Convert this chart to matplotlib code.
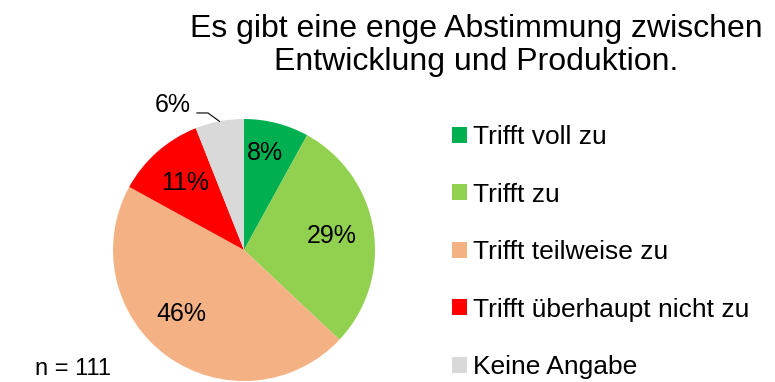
import matplotlib
matplotlib.use("Agg")
import matplotlib.pyplot as plt
import numpy as np

plt.rcParams['font.family'] = ['Liberation Sans', 'DejaVu Sans']

# Umfragedaten
kategorien = ['Trifft voll zu', 'Trifft zu', 'Trifft teilweise zu',
              'Trifft überhaupt nicht zu', 'Keine Angabe']
anteile = [8, 29, 46, 11, 6]
farben = ['#00B050', '#92D050', '#F4B183', '#FF0000', '#D9D9D9']
titel = 'Es gibt eine enge Abstimmung zwischen\nEntwicklung und Produktion.'
stichprobe = 'n = 111'

fig = plt.figure(figsize=(7.75, 3.82), dpi=100)
ax = fig.add_axes([113 / 775, 1 / 382, 262 / 775, 262 / 382])

wedges, texte, pct = ax.pie(anteile, colors=farben, startangle=90, counterclock=False,
                            autopct='%d%%', pctdistance=0.68, radius=1,
                            textprops={'fontsize': 18})
ax.set_xlim(-1, 1)
ax.set_ylim(-1, 1)
ax.set_aspect('equal')

# Beschriftungen leicht verschieben
x, y = pct[0].get_position()
pct[0].set_position((x * 0.95, y * 1.12))
x, y = pct[2].get_position()
pct[2].set_position((x * 1.2, y * 0.89))

# 6%-Beschriftung außerhalb mit Führungslinie
w = wedges[4]
mitte = np.deg2rad((w.theta1 + w.theta2) / 2)
rx, ry = np.cos(mitte), np.sin(mitte)
pct[4].set_visible(False)
knick = (-0.275, 1.046)
ax.plot([rx, knick[0], knick[0] - 0.085], [ry, knick[1], knick[1]],
        color='black', lw=0.8, clip_on=False)
ax.text(-0.405, 1.11, '%d%%' % anteile[4], ha='right', va='center',
        fontsize=18, clip_on=False)

fig.text(0.614, 0.88, titel, ha='center', va='center', fontsize=23, linespacing=1.12)
fig.text(0.045, 0.035, stichprobe, ha='left', va='center', fontsize=17)

leg = ax.legend(wedges, kategorien, loc='center left', bbox_to_anchor=(452 / 775, 0.34),
                bbox_transform=fig.transFigure, frameon=False, fontsize=19,
                borderpad=0, borderaxespad=0,
                handlelength=0.55, handleheight=0.55, handletextpad=0.25, labelspacing=1.27)

fig.savefig('out.png', dpi=100)
